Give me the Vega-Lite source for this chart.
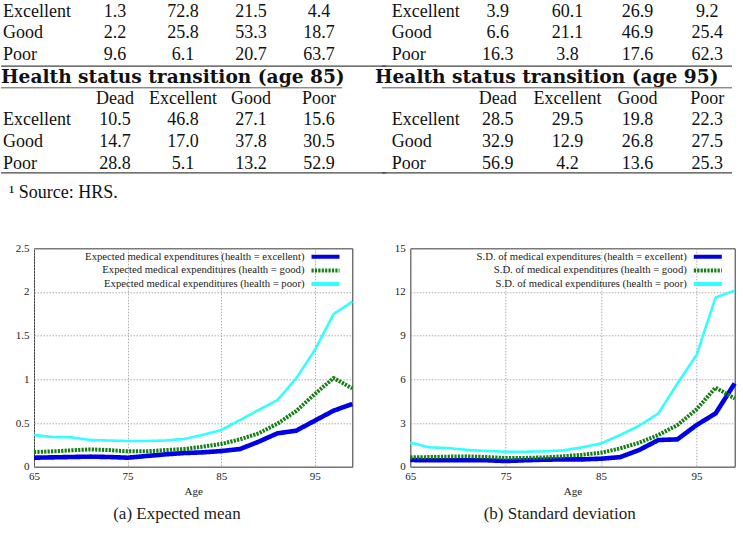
{
  "$schema": "https://vega.github.io/schema/vega-lite/v6.json",
  "padding": 0,
  "background": "white",
  "columns": 2,
  "bounds": "flush",
  "spacing": {"row": 48.3, "column": 57.3},
  "config": {
    "font": "Liberation Serif",
    "axis": {"labelFont": "Liberation Serif", "labelFontSize": 11, "labelColor": "#222", "titleFont": "Liberation Serif", "titleFontSize": 11, "titleFontWeight": "normal", "titleColor": "#222", "grid": true, "gridColor": "#999", "gridDash": [1.5, 1.5], "gridWidth": 0.8, "domain": false, "ticks": false, "labelFlush": false, "labelPadding": 4},
    "axisY": {"labelPadding": 5},
    "axisX": {"titlePadding": 4},
    "legend": {"orient": "top-right", "symbolType": "M-4,0H4M6,0", "symbolSize": 49, "symbolStrokeWidth": 4, "labelAlign": "right", "labelOffset": -26.5, "labelFont": "Liberation Serif", "labelFontSize": 10.7, "labelColor": "#222", "labelLimit": 400, "rowPadding": 1.6, "padding": 0, "offset": 3},
    "title": {"font": "Liberation Serif", "fontSize": 17, "fontWeight": "normal", "color": "#222"}
  },
  "datasets": {
    "cellsL": [
      {"line": "T-Excellent", "col": "Dead", "v": "1.3"}, {"line": "T-Excellent", "col": "Excellent", "v": "72.8"}, {"line": "T-Excellent", "col": "Good", "v": "21.5"}, {"line": "T-Excellent", "col": "Poor", "v": "4.4"},
      {"line": "T-Good", "col": "Dead", "v": "2.2"}, {"line": "T-Good", "col": "Excellent", "v": "25.8"}, {"line": "T-Good", "col": "Good", "v": "53.3"}, {"line": "T-Good", "col": "Poor", "v": "18.7"},
      {"line": "T-Poor", "col": "Dead", "v": "9.6"}, {"line": "T-Poor", "col": "Excellent", "v": "6.1"}, {"line": "T-Poor", "col": "Good", "v": "20.7"}, {"line": "T-Poor", "col": "Poor", "v": "63.7"},
      {"line": "B-header", "col": "Dead", "v": "Dead"}, {"line": "B-header", "col": "Excellent", "v": "Excellent"}, {"line": "B-header", "col": "Good", "v": "Good"}, {"line": "B-header", "col": "Poor", "v": "Poor"},
      {"line": "B-Excellent", "col": "Dead", "v": "10.5"}, {"line": "B-Excellent", "col": "Excellent", "v": "46.8"}, {"line": "B-Excellent", "col": "Good", "v": "27.1"}, {"line": "B-Excellent", "col": "Poor", "v": "15.6"},
      {"line": "B-Good", "col": "Dead", "v": "14.7"}, {"line": "B-Good", "col": "Excellent", "v": "17.0"}, {"line": "B-Good", "col": "Good", "v": "37.8"}, {"line": "B-Good", "col": "Poor", "v": "30.5"},
      {"line": "B-Poor", "col": "Dead", "v": "28.8"}, {"line": "B-Poor", "col": "Excellent", "v": "5.1"}, {"line": "B-Poor", "col": "Good", "v": "13.2"}, {"line": "B-Poor", "col": "Poor", "v": "52.9"}
    ],
    "cellsR": [
      {"line": "T-Excellent", "col": "Dead", "v": "3.9"}, {"line": "T-Excellent", "col": "Excellent", "v": "60.1"}, {"line": "T-Excellent", "col": "Good", "v": "26.9"}, {"line": "T-Excellent", "col": "Poor", "v": "9.2"},
      {"line": "T-Good", "col": "Dead", "v": "6.6"}, {"line": "T-Good", "col": "Excellent", "v": "21.1"}, {"line": "T-Good", "col": "Good", "v": "46.9"}, {"line": "T-Good", "col": "Poor", "v": "25.4"},
      {"line": "T-Poor", "col": "Dead", "v": "16.3"}, {"line": "T-Poor", "col": "Excellent", "v": "3.8"}, {"line": "T-Poor", "col": "Good", "v": "17.6"}, {"line": "T-Poor", "col": "Poor", "v": "62.3"},
      {"line": "B-header", "col": "Dead", "v": "Dead"}, {"line": "B-header", "col": "Excellent", "v": "Excellent"}, {"line": "B-header", "col": "Good", "v": "Good"}, {"line": "B-header", "col": "Poor", "v": "Poor"},
      {"line": "B-Excellent", "col": "Dead", "v": "28.5"}, {"line": "B-Excellent", "col": "Excellent", "v": "29.5"}, {"line": "B-Excellent", "col": "Good", "v": "19.8"}, {"line": "B-Excellent", "col": "Poor", "v": "22.3"},
      {"line": "B-Good", "col": "Dead", "v": "32.9"}, {"line": "B-Good", "col": "Excellent", "v": "12.9"}, {"line": "B-Good", "col": "Good", "v": "26.8"}, {"line": "B-Good", "col": "Poor", "v": "27.5"},
      {"line": "B-Poor", "col": "Dead", "v": "56.9"}, {"line": "B-Poor", "col": "Excellent", "v": "4.2"}, {"line": "B-Poor", "col": "Good", "v": "13.6"}, {"line": "B-Poor", "col": "Poor", "v": "25.3"}
    ],
    "rowlabels": [
      {"line": "T-Excellent", "v": "Excellent"}, {"line": "T-Good", "v": "Good"}, {"line": "T-Poor", "v": "Poor"},
      {"line": "B-Excellent", "v": "Excellent"}, {"line": "B-Good", "v": "Good"}, {"line": "B-Poor", "v": "Poor"}
    ],
    "med": [
      {"age": 65, "health": "excellent", "mean": 0.103, "sd": 0.46}, {"age": 67, "health": "excellent", "mean": 0.107, "sd": 0.44}, {"age": 69, "health": "excellent", "mean": 0.111, "sd": 0.44}, {"age": 71, "health": "excellent", "mean": 0.115, "sd": 0.44}, {"age": 73, "health": "excellent", "mean": 0.111, "sd": 0.44}, {"age": 75, "health": "excellent", "mean": 0.103, "sd": 0.39}, {"age": 77, "health": "excellent", "mean": 0.122, "sd": 0.44}, {"age": 79, "health": "excellent", "mean": 0.141, "sd": 0.48}, {"age": 81, "health": "excellent", "mean": 0.156, "sd": 0.5}, {"age": 83, "health": "excellent", "mean": 0.164, "sd": 0.5}, {"age": 85, "health": "excellent", "mean": 0.179, "sd": 0.55}, {"age": 87, "health": "excellent", "mean": 0.202, "sd": 0.66}, {"age": 89, "health": "excellent", "mean": 0.286, "sd": 1.15}, {"age": 91, "health": "excellent", "mean": 0.382, "sd": 1.83}, {"age": 93, "health": "excellent", "mean": 0.412, "sd": 1.88}, {"age": 95, "health": "excellent", "mean": 0.527, "sd": 2.86}, {"age": 97, "health": "excellent", "mean": 0.641, "sd": 3.66}, {"age": 99, "health": "excellent", "mean": 0.718, "sd": 5.72},
      {"age": 65, "health": "good", "mean": 0.168, "sd": 0.64}, {"age": 67, "health": "good", "mean": 0.176, "sd": 0.66}, {"age": 69, "health": "good", "mean": 0.187, "sd": 0.69}, {"age": 71, "health": "good", "mean": 0.198, "sd": 0.71}, {"age": 73, "health": "good", "mean": 0.19, "sd": 0.66}, {"age": 75, "health": "good", "mean": 0.176, "sd": 0.6}, {"age": 77, "health": "good", "mean": 0.176, "sd": 0.6}, {"age": 79, "health": "good", "mean": 0.19, "sd": 0.64}, {"age": 81, "health": "good", "mean": 0.202, "sd": 0.71}, {"age": 83, "health": "good", "mean": 0.229, "sd": 0.82}, {"age": 85, "health": "good", "mean": 0.26, "sd": 0.96}, {"age": 87, "health": "good", "mean": 0.313, "sd": 1.26}, {"age": 89, "health": "good", "mean": 0.382, "sd": 1.65}, {"age": 91, "health": "good", "mean": 0.492, "sd": 2.18}, {"age": 93, "health": "good", "mean": 0.637, "sd": 2.86}, {"age": 95, "health": "good", "mean": 0.832, "sd": 3.94}, {"age": 97, "health": "good", "mean": 1.015, "sd": 5.43}, {"age": 99, "health": "good", "mean": 0.897, "sd": 4.69},
      {"age": 65, "health": "poor", "mean": 0.363, "sd": 1.65}, {"age": 67, "health": "poor", "mean": 0.34, "sd": 1.33}, {"age": 69, "health": "poor", "mean": 0.336, "sd": 1.28}, {"age": 71, "health": "poor", "mean": 0.305, "sd": 1.15}, {"age": 73, "health": "poor", "mean": 0.3, "sd": 1.08}, {"age": 75, "health": "poor", "mean": 0.294, "sd": 1.03}, {"age": 77, "health": "poor", "mean": 0.294, "sd": 1.03}, {"age": 79, "health": "poor", "mean": 0.3, "sd": 1.05}, {"age": 81, "health": "poor", "mean": 0.317, "sd": 1.12}, {"age": 83, "health": "poor", "mean": 0.363, "sd": 1.33}, {"age": 85, "health": "poor", "mean": 0.42, "sd": 1.6}, {"age": 87, "health": "poor", "mean": 0.534, "sd": 2.18}, {"age": 89, "health": "poor", "mean": 0.65, "sd": 2.82}, {"age": 91, "health": "poor", "mean": 0.763, "sd": 3.66}, {"age": 93, "health": "poor", "mean": 1.01, "sd": 5.72}, {"age": 95, "health": "poor", "mean": 1.336, "sd": 7.67}, {"age": 97, "health": "poor", "mean": 1.748, "sd": 11.63}, {"age": 99, "health": "poor", "mean": 1.889, "sd": 12.09}
    ]
  },
  "resolve": {"scale": {"color": "independent", "strokeDash": "independent"}, "legend": {"color": "independent", "strokeDash": "independent"}},
  "concat": [
    {
      "width": 318.3, "height": 200, "view": {"stroke": null},
      "layer": [
        {"data": {"name": "cellsL"}, "mark": {"type": "text", "fontSize": 18, "color": "#111"},
         "encoding": {
           "x": {"field": "col", "type": "nominal", "axis": null, "scale": {"type": "band", "domain": ["label", "Dead", "Excellent", "Good", "Poor"], "range": [-21, 319], "paddingInner": 0, "paddingOuter": 0}},
           "y": {"field": "line", "type": "nominal", "axis": null, "scale": {"type": "band", "domain": ["T-Excellent", "T-Good", "T-Poor", "B-title", "B-header", "B-Excellent", "B-Good", "B-Poor", "note"], "range": [0.8, 196.6], "paddingInner": 0, "paddingOuter": 0}},
           "text": {"field": "v"}}},
        {"data": {"name": "rowlabels"}, "mark": {"type": "text", "align": "left", "fontSize": 18, "color": "#111"},
         "encoding": {
           "x": {"datum": "label", "type": "nominal", "bandPosition": -0.147, "axis": null},
           "y": {"field": "line", "type": "nominal", "axis": null},
           "text": {"field": "v"}}},
        {"data": {"values": [{"v": "Health status transition (age 85)"}]}, "mark": {"type": "text", "align": "left", "font": "DejaVu Serif", "fontWeight": "bold", "fontSize": 18.6, "color": "#111"},
         "encoding": {
           "x": {"datum": "label", "type": "nominal", "bandPosition": -0.176, "axis": null},
           "y": {"datum": "B-title", "type": "nominal", "axis": null},
           "text": {"field": "v"}}},
        {"data": {"values": [{"v": "¹ Source:  HRS."}]}, "mark": {"type": "text", "align": "left", "fontSize": 18, "color": "#111"},
         "encoding": {
           "x": {"datum": "label", "type": "nominal", "bandPosition": -0.06, "axis": null},
           "y": {"datum": "note", "type": "nominal", "bandPosition": 0.83, "axis": null},
           "text": {"field": "v"}}},
        {"data": {"values": [{"rule": "top"}]}, "mark": {"type": "rule", "color": "#444", "strokeWidth": 1.3},
         "encoding": {
           "x": {"datum": "label", "type": "nominal", "bandPosition": -0.176, "axis": null},
           "x2": {"datum": "Poor", "bandPosition": 1.49},
           "y": {"datum": "T-Poor", "type": "nominal", "bandPosition": 1, "axis": null}}},
        {"data": {"values": [{"rule": "mid"}]}, "mark": {"type": "rule", "color": "#444", "strokeWidth": 0.9},
         "encoding": {
           "x": {"datum": "label", "type": "nominal", "bandPosition": -0.176, "axis": null},
           "x2": {"datum": "Poor", "bandPosition": 0.84},
           "y": {"datum": "B-title", "type": "nominal", "bandPosition": 1, "axis": null}}},
        {"data": {"values": [{"rule": "bottom"}]}, "mark": {"type": "rule", "color": "#444", "strokeWidth": 1.3},
         "encoding": {
           "x": {"datum": "label", "type": "nominal", "bandPosition": -0.176, "axis": null},
           "x2": {"datum": "Poor", "bandPosition": 1.49},
           "y": {"datum": "B-Poor", "type": "nominal", "bandPosition": 0.91, "axis": null}}}
      ]
    },
    {
      "width": 324.4, "height": 200, "view": {"stroke": null},
      "layer": [
        {"data": {"name": "cellsR"}, "mark": {"type": "text", "fontSize": 18, "color": "#111"},
         "encoding": {
           "x": {"field": "col", "type": "nominal", "axis": null, "scale": {"type": "band", "domain": ["label", "Dead", "Excellent", "Good", "Poor"], "range": [-17.2, 331.8], "paddingInner": 0, "paddingOuter": 0}},
           "y": {"field": "line", "type": "nominal", "axis": null, "scale": {"type": "band", "domain": ["T-Excellent", "T-Good", "T-Poor", "B-title", "B-header", "B-Excellent", "B-Good", "B-Poor", "note"], "range": [0.8, 196.6], "paddingInner": 0, "paddingOuter": 0}},
           "text": {"field": "v"}}},
        {"data": {"name": "rowlabels"}, "mark": {"type": "text", "align": "left", "fontSize": 18, "color": "#111"},
         "encoding": {
           "x": {"datum": "label", "type": "nominal", "bandPosition": -0.02, "axis": null},
           "y": {"field": "line", "type": "nominal", "axis": null},
           "text": {"field": "v"}}},
        {"data": {"values": [{"v": "Health status transition (age 95)"}]}, "mark": {"type": "text", "align": "left", "font": "DejaVu Serif", "fontWeight": "bold", "fontSize": 18.6, "color": "#111"},
         "encoding": {
           "x": {"datum": "label", "type": "nominal", "bandPosition": -0.26, "axis": null},
           "y": {"datum": "B-title", "type": "nominal", "axis": null},
           "text": {"field": "v"}}},
        {"data": {"values": [{"rule": "top"}]}, "mark": {"type": "rule", "color": "#444", "strokeWidth": 1.3},
         "encoding": {
           "x": {"datum": "label", "type": "nominal", "bandPosition": -0.16, "axis": null},
           "x2": {"datum": "Poor", "bandPosition": 0.855},
           "y": {"datum": "T-Poor", "type": "nominal", "bandPosition": 1, "axis": null}}},
        {"data": {"values": [{"rule": "mid"}]}, "mark": {"type": "rule", "color": "#444", "strokeWidth": 0.9},
         "encoding": {
           "x": {"datum": "label", "type": "nominal", "bandPosition": -0.16, "axis": null},
           "x2": {"datum": "Poor", "bandPosition": 0.855},
           "y": {"datum": "B-title", "type": "nominal", "bandPosition": 1, "axis": null}}},
        {"data": {"values": [{"rule": "bottom"}]}, "mark": {"type": "rule", "color": "#444", "strokeWidth": 1.3},
         "encoding": {
           "x": {"datum": "label", "type": "nominal", "bandPosition": -0.16, "axis": null},
           "x2": {"datum": "Poor", "bandPosition": 0.855},
           "y": {"datum": "B-Poor", "type": "nominal", "bandPosition": 0.91, "axis": null}}}
      ]
    },
    {
      "width": 318.3, "height": 218.4,
      "view": {"stroke": "#333", "strokeWidth": 1},
      "title": {"text": "(a) Expected mean", "orient": "bottom", "anchor": "middle", "frame": "bounds", "offset": 9, "dx": -8},
      "data": {"name": "med"},
      "encoding": {
        "x": {"field": "age", "type": "quantitative", "scale": {"domain": [65, 99], "nice": false, "zero": false}, "axis": {"values": [65, 75, 85, 95], "title": "Age"}},
        "y": {"field": "mean", "type": "quantitative", "scale": {"domain": [0, 2.5], "nice": false}, "axis": {"values": [0, 0.5, 1, 1.5, 2, 2.5], "format": "~g", "title": null}},
        "color": {"field": "health", "type": "nominal", "scale": {"domain": ["excellent", "good", "poor"], "range": ["#0000e6", "#138013", "#33ffff"]}, "legend": {"title": null, "labelExpr": "'Expected medical expenditures (health = ' + datum.label + ')'", "encode": {"symbols": {"update": {"strokeJoin": {"value": "round"}}}}}},
        "strokeDash": {"field": "health", "type": "nominal", "scale": {"domain": ["excellent", "good", "poor"], "range": [[1, 0], [2.2, 1.2], [1, 0]]}, "legend": {"title": null, "labelExpr": "'Expected medical expenditures (health = ' + datum.label + ')'", "encode": {"symbols": {"update": {"strokeJoin": {"value": "round"}}}}}}
      },
      "layer": [
        {"transform": [{"filter": "datum.health === 'excellent'"}], "mark": {"type": "line", "strokeWidth": 4.6, "strokeJoin": "round"}},
        {"transform": [{"filter": "datum.health === 'good'"}], "mark": {"type": "line", "strokeWidth": 4, "strokeJoin": "round"}},
        {"transform": [{"filter": "datum.health === 'poor'"}], "mark": {"type": "line", "strokeWidth": 2.6, "strokeJoin": "round"}}
      ]
    },
    {
      "width": 324.4, "height": 218.4,
      "view": {"stroke": "#333", "strokeWidth": 1},
      "title": {"text": "(b) Standard deviation", "orient": "bottom", "anchor": "middle", "frame": "bounds", "offset": 9, "dx": -6},
      "data": {"name": "med"},
      "encoding": {
        "x": {"field": "age", "type": "quantitative", "scale": {"domain": [65, 99], "nice": false, "zero": false}, "axis": {"values": [65, 75, 85, 95], "title": "Age"}},
        "y": {"field": "sd", "type": "quantitative", "scale": {"domain": [0, 15], "nice": false}, "axis": {"values": [0, 3, 6, 9, 12, 15], "format": "~g", "title": null}},
        "color": {"field": "health", "type": "nominal", "scale": {"domain": ["excellent", "good", "poor"], "range": ["#0000e6", "#138013", "#33ffff"]}, "legend": {"title": null, "labelExpr": "'S.D. of medical expenditures (health = ' + datum.label + ')'", "encode": {"symbols": {"update": {"strokeJoin": {"value": "round"}}}}}},
        "strokeDash": {"field": "health", "type": "nominal", "scale": {"domain": ["excellent", "good", "poor"], "range": [[1, 0], [2.2, 1.2], [1, 0]]}, "legend": {"title": null, "labelExpr": "'S.D. of medical expenditures (health = ' + datum.label + ')'", "encode": {"symbols": {"update": {"strokeJoin": {"value": "round"}}}}}}
      },
      "layer": [
        {"transform": [{"filter": "datum.health === 'excellent'"}], "mark": {"type": "line", "strokeWidth": 4.6, "strokeJoin": "round"}},
        {"transform": [{"filter": "datum.health === 'good'"}], "mark": {"type": "line", "strokeWidth": 4, "strokeJoin": "round"}},
        {"transform": [{"filter": "datum.health === 'poor'"}], "mark": {"type": "line", "strokeWidth": 2.6, "strokeJoin": "round"}}
      ]
    }
  ]
}
